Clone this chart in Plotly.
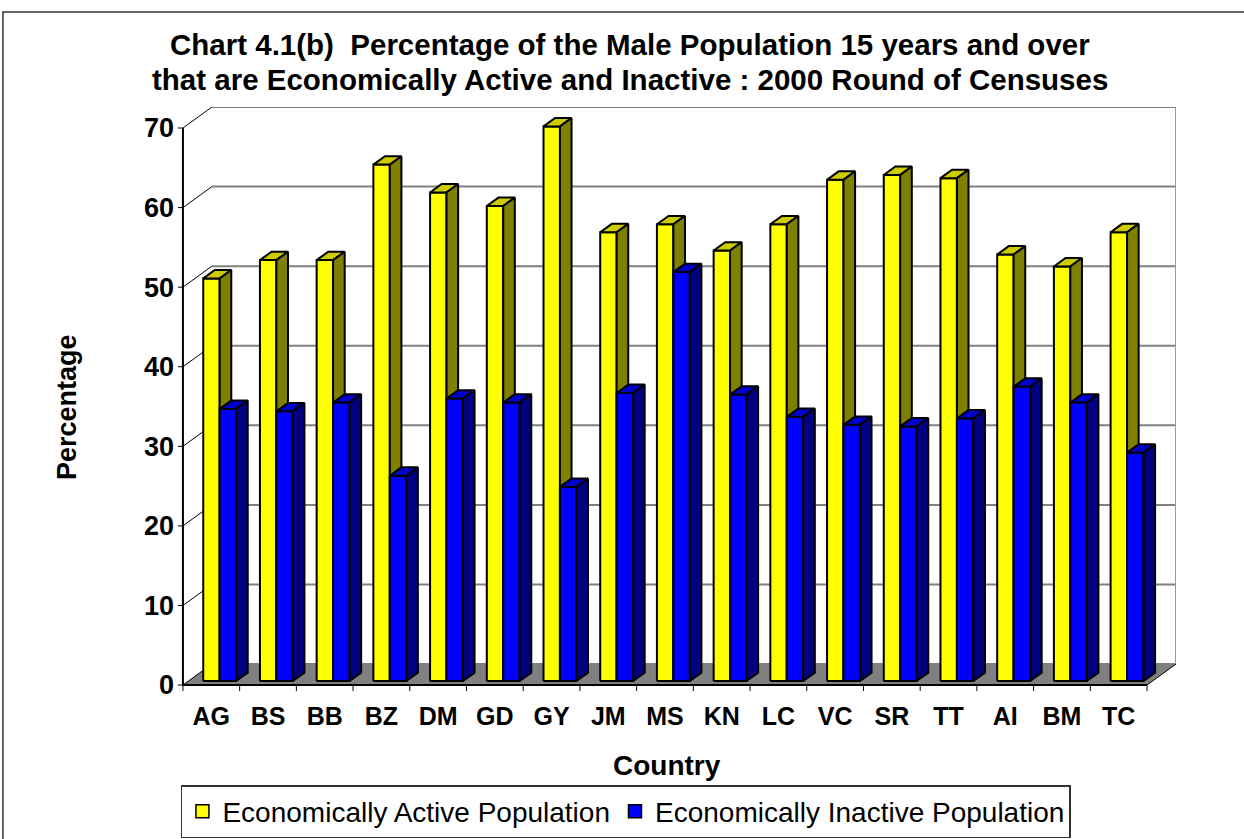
import plotly.graph_objects as go

# ---- data -------------------------------------------------------------
countries = ["AG", "BS", "BB", "BZ", "DM", "GD", "GY", "JM", "MS",
             "KN", "LC", "VC", "SR", "TT", "AI", "BM", "TC"]
active = [50.6, 52.9, 52.9, 64.9, 61.4, 59.7, 69.7, 56.4, 57.4,
          54.1, 57.4, 63.0, 63.6, 63.2, 53.6, 52.1, 56.4]
inactive = [34.2, 33.9, 35.0, 25.8, 35.5, 35.0, 24.4, 36.2, 51.4,
            36.0, 33.2, 32.2, 32.0, 33.0, 37.0, 35.0, 28.7]
y_ticks = [0, 10, 20, 30, 40, 50, 60, 70]
series_names = ["Economically Active Population", "Economically Inactive Population"]

# ---- geometry of the pseudo-3D box ------------------------------------
W, H = 1244, 839
FRONT_LEFT_PX, FRONT_BOTTOM_PX = 183, 685     # pixel position of (x=-0.5, y=0)
SX, SY = 56.71, 7.957                          # pixels per category / per percent
DEPTH_X, DEPTH_Y = 0.511, 2.64                 # back wall offset in data units
Y_MAX = 70
PAD_X, PAD_Y = 0.14, 1.0                       # room for ticks outside the box
n = len(countries)

x_lo, x_hi = -0.5 - PAD_X, n - 0.5 + DEPTH_X
y_lo, y_hi = -PAD_Y, Y_MAX + DEPTH_Y
m_l = FRONT_LEFT_PX - PAD_X * SX
m_r = W - (FRONT_LEFT_PX + (x_hi + 0.5) * SX)
m_t = FRONT_BOTTOM_PX - y_hi * SY
m_b = H - (FRONT_BOTTOM_PX + PAD_Y * SY)
plot_w = W - m_l - m_r
plot_h = H - m_t - m_b


def paper(px, py):
    """Convert absolute pixel coordinates to paper coordinates."""
    return (px - m_l) / plot_w, (H - m_b - py) / plot_h


# bar box: front face position inside each category and its depth
BAR_W = 0.29
BAR_X0 = -0.142
BAR_BASE = 0.19 * DEPTH_Y
BAR_DX, BAR_DY = 0.40 * DEPTH_X, 0.40 * DEPTH_Y

faces = {
    0: dict(front="#FFFF00", top="#CCCC00", side="#808000"),
    1: dict(front="#0000FF", top="#0000CC", side="#000080"),
}

fig = go.Figure()


def face_trace(xs, ys, color):
    return go.Scatter(x=xs, y=ys, mode="lines", fill="toself", fillcolor=color,
                      line=dict(color="black", width=2), hoverinfo="skip",
                      showlegend=False)


for s, values in enumerate([active, inactive]):
    fx, fy, tx, ty, sx_, sy_ = [], [], [], [], [], []
    for i, v in enumerate(values):
        x0 = i + BAR_X0 + s * BAR_W
        x1 = x0 + BAR_W
        b = BAR_BASE
        t = v + BAR_BASE
        fx += [x0, x1, x1, x0, x0, None]
        fy += [b, b, t, t, b, None]
        tx += [x0, x1, x1 + BAR_DX, x0 + BAR_DX, x0, None]
        ty += [t, t, t + BAR_DY, t + BAR_DY, t, None]
        sx_ += [x1, x1 + BAR_DX, x1 + BAR_DX, x1, x1, None]
        sy_ += [b, b + BAR_DY, t + BAR_DY, t, b, None]
    fig.add_trace(face_trace(fx, fy, faces[s]["front"]))
    fig.add_trace(face_trace(tx, ty, faces[s]["top"]))
    fig.add_trace(face_trace(sx_, sy_, faces[s]["side"]))

# legend entries
for s, name in enumerate(series_names):
    fig.add_trace(go.Scatter(
        x=[None], y=[None], mode="markers", name=name,
        marker=dict(symbol="square", size=13, color=faces[s]["front"],
                    line=dict(color="black", width=1.5))))

# ---- walls, floor, gridlines -------------------------------------------
shapes = []
xl, xr = -0.5, n - 0.5
shapes.append(dict(type="path", xref="x", yref="y", layer="below",
                   path=f"M {xl},0 L {xr},0 L {xr + DEPTH_X},{DEPTH_Y} L {xl + DEPTH_X},{DEPTH_Y} Z",
                   fillcolor="#808080", line=dict(width=0)))
for v in y_ticks:
    shapes.append(dict(type="line", xref="x", yref="y", layer="below",
                       x0=xl + DEPTH_X, x1=xr + DEPTH_X, y0=v + DEPTH_Y, y1=v + DEPTH_Y,
                       line=dict(color="#808080", width=2)))
    shapes.append(dict(type="line", xref="x", yref="y", layer="below",
                       x0=xl, x1=xl + DEPTH_X, y0=v, y1=v + DEPTH_Y,
                       line=dict(color="black", width=1)))
    # y tick marks
    shapes.append(dict(type="line", xref="x", yref="y", layer="below",
                       x0=xl - 0.09, x1=xl, y0=v, y1=v,
                       line=dict(color="black", width=1)))
shapes.append(dict(type="line", xref="x", yref="y", layer="below",
                   x0=xr + DEPTH_X, x1=xr + DEPTH_X, y0=DEPTH_Y, y1=Y_MAX + DEPTH_Y,
                   line=dict(color="#999999", width=2)))
# front axes
shapes.append(dict(type="line", xref="x", yref="y", layer="above",
                   x0=xl, x1=xl, y0=0, y1=Y_MAX, line=dict(color="black", width=2)))
shapes.append(dict(type="line", xref="x", yref="y", layer="above",
                   x0=xl, x1=xr, y0=0, y1=0, line=dict(color="black", width=2)))
shapes.append(dict(type="line", xref="x", yref="y", layer="above",
                   x0=xr, x1=xr + DEPTH_X, y0=0, y1=DEPTH_Y, line=dict(color="black", width=1)))
# x tick marks on category boundaries
for k in range(n + 1):
    shapes.append(dict(type="line", xref="x", yref="y", layer="above",
                       x0=k - 0.5, x1=k - 0.5, y0=0, y1=-0.75,
                       line=dict(color="black", width=1)))
# outer chart border
bx0, by0 = paper(3, 12)
bx1, by1 = paper(1250, 850)
shapes.append(dict(type="rect", xref="paper", yref="paper", layer="below",
                   x0=bx0, y0=by0, x1=bx1, y1=by1,
                   line=dict(color="#333333", width=1.5), fillcolor="rgba(0,0,0,0)"))

FONT = "Liberation Sans, Arial, sans-serif"
annotations = []
for text, py in [("Chart 4.1(b)  Percentage of the Male Population 15 years and over", 45),
                 ("that are Economically Active and Inactive : 2000 Round of Censuses", 80)]:
    ax, ay = paper(630, py)
    annotations.append(dict(text=f"<b>{text}</b>", x=ax, y=ay, xref="paper", yref="paper",
                            xanchor="center", yanchor="middle", showarrow=False,
                            font=dict(family=FONT, size=29.5, color="black")))
ax, ay = paper(667, 765)
annotations.append(dict(text="<b>Country</b>", x=ax, y=ay, xref="paper", yref="paper",
                        xanchor="center", yanchor="middle", showarrow=False,
                        font=dict(family=FONT, size=28, color="black")))
ax, ay = paper(67, 407)
annotations.append(dict(text="<b>Percentage</b>", x=ax, y=ay, xref="paper", yref="paper",
                        xanchor="center", yanchor="middle", showarrow=False, textangle=-90,
                        font=dict(family=FONT, size=27, color="black")))

lx, ly = paper(181, 785)
fig.update_layout(
    width=W, height=H,
    margin=dict(l=m_l, r=m_r, t=m_t, b=m_b, autoexpand=False),
    paper_bgcolor="white", plot_bgcolor="white",
    shapes=shapes, annotations=annotations,
    showlegend=True,
    legend=dict(orientation="h", x=lx, y=ly, xanchor="left", yanchor="top",
                bordercolor="#333333", borderwidth=1.5, bgcolor="white",
                font=dict(family=FONT, size=28, color="black"),
                tracegroupgap=0, itemwidth=30,
                itemclick=False, itemdoubleclick=False),
    xaxis=dict(range=[x_lo, x_hi], showgrid=False, zeroline=False, showline=False,
               tickmode="array", tickvals=list(range(n)),
               ticktext=[f"<b>{c}</b>" for c in countries], ticks="",
               ticklabelstandoff=6,
               tickfont=dict(family=FONT, size=25, color="black"), fixedrange=True),
    yaxis=dict(range=[y_lo, y_hi], showgrid=False, zeroline=False, showline=False,
               tickmode="array", tickvals=y_ticks,
               ticktext=[f"<b>{v}</b>" for v in y_ticks], ticks="",
               ticklabelstandoff=0,
               tickfont=dict(family=FONT, size=27, color="black"), fixedrange=True),
)

fig.write_html("out.html")
